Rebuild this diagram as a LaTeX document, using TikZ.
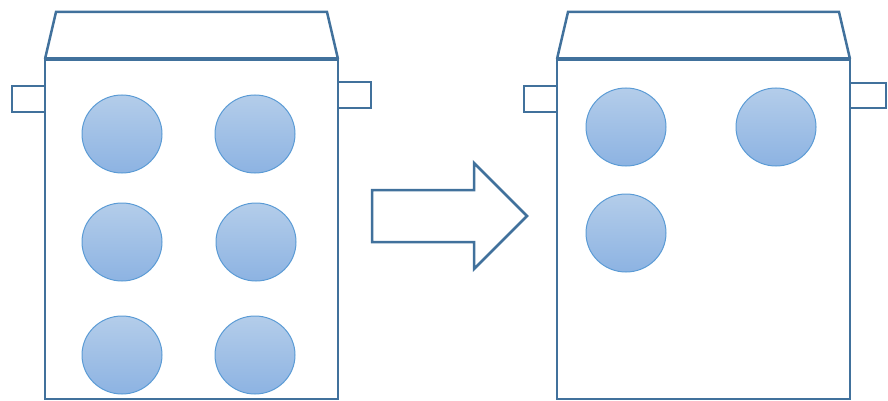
\documentclass[tikz,border=0pt]{standalone}
\usetikzlibrary{shapes.geometric}
\definecolor{edgeblue}{HTML}{41719C}
\definecolor{ballline}{HTML}{5B9BD5}
\definecolor{balltop}{HTML}{B4CDEA}
\definecolor{ballbot}{HTML}{8DB3E2}
\tikzset{
  outline/.style={draw=edgeblue, line width=2.5pt, line join=miter},
  lidline/.style={draw=edgeblue, line width=4pt},
  ball/.style={ellipse, draw=ballline, line width=1pt, minimum width=80pt, minimum height=78pt, inner sep=0pt, top color=balltop, bottom color=ballbot}
}
\begin{document}
\begin{tikzpicture}[x=1pt,y=-1pt]
\useasboundingbox (0,0) rectangle (888,401);
% left container
\draw[outline] (45,59) -- (56,12) -- (327,12) -- (338,59);
\draw[outline] (45,59) rectangle (338,399);
\draw[lidline] (45,59) -- (338,59);
\draw[outline] (12,86) rectangle (45,112);
\draw[outline] (338,82) rectangle (371,108);
\node[ball] (l1) at (122,134) {};
\node[ball] (l2) at (255,134) {};
\node[ball] (l3) at (122,242) {};
\node[ball] (l4) at (256,242) {};
\node[ball] (l5) at (122,355) {};
\node[ball] (l6) at (255,355) {};
% arrow
\draw[outline] (372,190) -- (474,190) -- (474,163) -- (527,216) -- (474,269) -- (474,242) -- (372,242) -- cycle;
% right container
\draw[outline] (557,59) -- (568,12) -- (839,12) -- (850,59);
\draw[outline] (557,59) rectangle (850,399);
\draw[lidline] (557,59) -- (850,59);
\draw[outline] (524,86) rectangle (557,112);
\draw[outline] (850,83) rectangle (886,108);
\node[ball] (r1) at (626,127) {};
\node[ball] (r2) at (776,127) {};
\node[ball] (r3) at (626,233) {};
\end{tikzpicture}
\end{document}
